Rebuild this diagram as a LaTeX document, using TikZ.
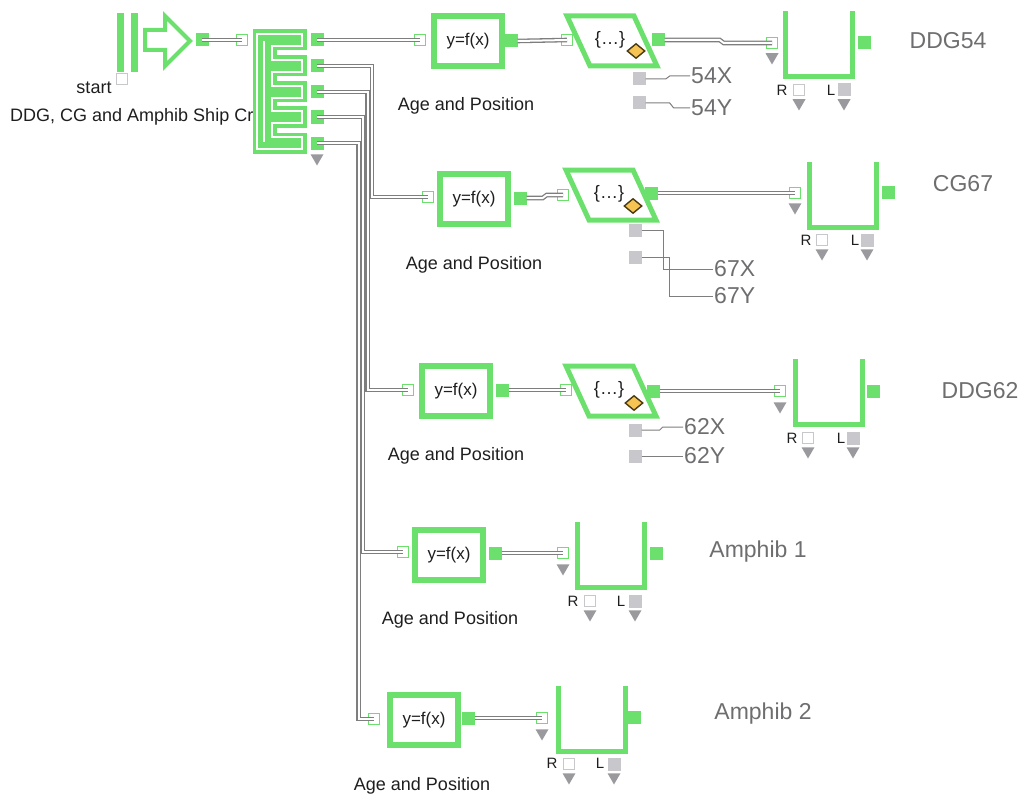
\documentclass[tikz,border=0pt]{standalone}
\usepackage{fontspec}
\setmainfont{Liberation Sans}
\usetikzlibrary{shapes.geometric,positioning,calc}
\definecolor{blockgreen}{HTML}{6CE06C}
\definecolor{wiregrey}{HTML}{7E7E7E}
\definecolor{portgrey}{HTML}{C8C8CC}
\definecolor{tipgrey}{HTML}{9A9A9E}
\definecolor{labgrey}{HTML}{6E6E70}
\definecolor{ink}{HTML}{1E1E1E}
\definecolor{gold}{HTML}{F6C453}
\definecolor{golddark}{HTML}{4A3A10}

\begin{document}
\begin{tikzpicture}[x=1pt, y=-1pt,
  font=\fontsize{18}{21}\selectfont,
  fbox/.style={draw=blockgreen, line width=6pt, fill=white, minimum width=68pt,
               minimum height=50pt, inner sep=0pt, text=ink,
               font=\fontsize{17}{20}\selectfont},
  qbox/.style={minimum width=66pt, minimum height=65pt, inner sep=0pt},
  ubox/.style={draw=blockgreen, line width=5pt},
  pbox/.style={draw=blockgreen, line width=5pt, line join=miter},
  inport/.style={draw=blockgreen, line width=1.4pt, minimum size=11pt, inner sep=0pt},
  outport/.style={fill=blockgreen, minimum size=13pt, inner sep=0pt},
  rport/.style={draw=portgrey, fill=white, line width=1.4pt, minimum size=11pt, inner sep=0pt},
  lport/.style={fill=portgrey, minimum size=13pt, inner sep=0pt},
  tip/.style={regular polygon, regular polygon sides=3, shape border rotate=180,
              fill=tipgrey, minimum size=15pt, inner sep=0pt},
  flag/.style={diamond, draw=golddark, fill=gold, line width=1.4pt,
               minimum width=18pt, minimum height=15pt, inner sep=0pt},
  wire/.style={draw=wiregrey, line width=1.3pt, double=white, double distance=2pt},
  tap/.style={draw=wiregrey, line width=1pt},
  lbl/.style={text=ink},
  tag/.style={font=\fontsize{23}{27}\selectfont, text=labgrey, inner sep=1pt},
  rl/.style={font=\fontsize{15}{18}\selectfont, text=ink, inner sep=1pt}
]
\useasboundingbox (0,0) rectangle (1024,797);

% ---- source -------------------------------------------------------------
\fill[blockgreen] (117,13) rectangle (124,72);
\fill[blockgreen] (131,13) rectangle (138,72);
\draw[blockgreen, line width=4pt, line join=miter]
  (145,30) -- (165,30) -- (165,16) -- (190,41) -- (165,66) -- (165,50) -- (145,50) -- cycle;
\node[rport] (start) at (122,79) {};
\node[lbl] (startlbl) at (94,88) {start};
\node[outport] (srcout) at (202,40) {};
\node[inport] (spin) at (242,40) {};
\node[lbl, anchor=west, inner sep=0pt] (title) at (10,117) {DDG, CG and Amphib Ship Creation};

% ---- splitter -----------------------------------------------------------
\draw[blockgreen, fill=blockgreen, line width=3.6pt, double=white, double distance=1.8pt,
      line join=miter]
  (257,34) -- (302,34) -- (302,46) -- (272,46) -- (272,60) -- (302,60) -- (302,72)
  -- (272,72) -- (272,86) -- (302,86) -- (302,98) -- (272,98) -- (272,111)
  -- (302,111) -- (302,123) -- (272,123) -- (272,137) -- (302,137) -- (302,149)
  -- (257,149) -- cycle;
\draw[white, line width=1.8pt] (264,41) -- (264,142);
\node[outport] (sp1) at (317,40) {};
\node[outport] (sp2) at (317,66) {};
\node[outport] (sp3) at (317,92) {};
\node[outport] (sp4) at (317,117) {};
\node[outport] (sp5) at (317,143) {};
\node[tip] (sptip) at (317,158) {};

% ---- DDG54 --------------------------------------------------------------
\node[inport] (f1in) at (420,40) {};
\node[fbox] (f1) at (468,41) {y=f(x)};
\node[outport] (f1out) at (511,41) {};
\node[lbl] (f1lbl) at (466,106) {Age and Position};
\node[text=ink] (p1) at (610,40) {\{\ldots\}};
\draw[pbox] (p1.center) ++(-43,-24) -- ++(67,0) -- ++(23,50) -- ++(-67,0) -- cycle;
\node[inport] (p1in) at (567,40) {};
\node[outport] (p1out) at (658,40) {};
\node[flag] (p1flag) at (636,51) {};
\node[lport] (p1x) at (639,79) {};
\node[lport] (p1y) at (639,103) {};
\node[tag, anchor=west] (l54x) at (690,76) {54X};
\node[tag, anchor=west] (l54y) at (690,108) {54Y};
\node[qbox] (q1) at (819,44) {};
\draw[ubox] (q1.north west) -- (q1.south west) -- (q1.south east) -- (q1.north east);
\node[inport] (q1in) at (772,43) {};
\node[tip] (q1tip) at (772,57) {};
\node[outport] (q1out) at (864,43) {};
\node[rport] (q1r) at (799,90) {};
\node[lport] (q1l) at (844,90) {};
\node[tip] (q1rtip) at (799,103) {};
\node[tip] (q1ltip) at (844,103) {};
\node[rl] (q1rl) at (782,90) {R};
\node[rl] (q1ll) at (831,90) {L};
\node[tag] (ddg54) at (948,41) {DDG54};

% ---- CG67 ---------------------------------------------------------------
\node[inport] (f2in) at (428,197) {};
\node[fbox] (f2) at (474,199) {y=f(x)};
\node[outport] (f2out) at (520,198) {};
\node[lbl] (f2lbl) at (474,265) {Age and Position};
\node[text=ink] (p2) at (609,194) {\{\ldots\}};
\draw[pbox] (p2.center) ++(-43,-24) -- ++(67,0) -- ++(23,50) -- ++(-67,0) -- cycle;
\node[inport] (p2in) at (563,195) {};
\node[outport] (p2out) at (651,193) {};
\node[flag] (p2flag) at (633,206) {};
\node[lport] (p2x) at (635,230) {};
\node[lport] (p2y) at (635,257) {};
\node[tag, anchor=west] (l67x) at (713,269) {67X};
\node[tag, anchor=west] (l67y) at (713,296) {67Y};
\node[qbox] (q2) at (843,195) {};
\draw[ubox] (q2.north west) -- (q2.south west) -- (q2.south east) -- (q2.north east);
\node[inport] (q2in) at (795,193) {};
\node[tip] (q2tip) at (795,207) {};
\node[outport] (q2out) at (888,192) {};
\node[rport] (q2r) at (822,240) {};
\node[lport] (q2l) at (867,240) {};
\node[tip] (q2rtip) at (822,253) {};
\node[tip] (q2ltip) at (867,253) {};
\node[rl] (q2rl) at (806,240) {R};
\node[rl] (q2ll) at (855,240) {L};
\node[tag] (cg67) at (963,184) {CG67};

% ---- DDG62 --------------------------------------------------------------
\node[inport] (f3in) at (408,390) {};
\node[fbox] (f3) at (456,391) {y=f(x)};
\node[outport] (f3out) at (502,390) {};
\node[lbl] (f3lbl) at (456,456) {Age and Position};
\node[text=ink] (p3) at (609,390) {\{\ldots\}};
\draw[pbox] (p3.center) ++(-43,-24) -- ++(67,0) -- ++(23,50) -- ++(-67,0) -- cycle;
\node[inport] (p3in) at (566,390) {};
\node[outport] (p3out) at (653,391) {};
\node[flag] (p3flag) at (634,403) {};
\node[lport] (p3x) at (635,430) {};
\node[lport] (p3y) at (635,456) {};
\node[tag, anchor=west] (l62x) at (683,427) {62X};
\node[tag, anchor=west] (l62y) at (683,456) {62Y};
\node[qbox] (q3) at (829,392) {};
\draw[ubox] (q3.north west) -- (q3.south west) -- (q3.south east) -- (q3.north east);
\node[inport] (q3in) at (780,391) {};
\node[tip] (q3tip) at (780,406) {};
\node[outport] (q3out) at (873,391) {};
\node[rport] (q3r) at (808,438) {};
\node[lport] (q3l) at (853,438) {};
\node[tip] (q3rtip) at (808,451) {};
\node[tip] (q3ltip) at (853,451) {};
\node[rl] (q3rl) at (792,438) {R};
\node[rl] (q3ll) at (841,438) {L};
\node[tag] (ddg62) at (980,391) {DDG62};

% ---- Amphib 1 -----------------------------------------------------------
\node[inport] (f4in) at (403,552) {};
\node[fbox] (f4) at (449,555) {y=f(x)};
\node[outport] (f4out) at (495,553) {};
\node[lbl] (f4lbl) at (450,620) {Age and Position};
\node[qbox] (q4) at (611,555) {};
\draw[ubox] (q4.north west) -- (q4.south west) -- (q4.south east) -- (q4.north east);
\node[inport] (q4in) at (563,553) {};
\node[tip] (q4tip) at (563,568) {};
\node[outport] (q4out) at (656,553) {};
\node[rport] (q4r) at (590,601) {};
\node[lport] (q4l) at (635,601) {};
\node[tip] (q4rtip) at (590,614) {};
\node[tip] (q4ltip) at (635,614) {};
\node[rl] (q4rl) at (573,601) {R};
\node[rl] (q4ll) at (621,601) {L};
\node[tag] (amph1) at (758,552) {Amphib 1};

% ---- Amphib 2 -----------------------------------------------------------
\node[inport] (f5in) at (374,719) {};
\node[fbox] (f5) at (424,720) {y=f(x)};
\node[outport] (f5out) at (468,718) {};
\node[lbl] (f5lbl) at (422,786) {Age and Position};
\node[qbox] (q5) at (592,719) {};
\draw[ubox] (q5.north west) -- (q5.south west) -- (q5.south east) -- (q5.north east);
\node[inport] (q5in) at (542,718) {};
\node[tip] (q5tip) at (542,733) {};
\node[outport] (q5out) at (634,717) {};
\node[rport] (q5r) at (569,764) {};
\node[lport] (q5l) at (614,764) {};
\node[tip] (q5rtip) at (569,777) {};
\node[tip] (q5ltip) at (614,777) {};
\node[rl] (q5rl) at (552,763) {R};
\node[rl] (q5ll) at (600,763) {L};
\node[tag] (amph2) at (763,714) {Amphib 2};

% ---- wires --------------------------------------------------------------
\draw[wire] (srcout.center) -- (spin.center);
\draw[wire] (sp1.center) -- (f1in.center);
\draw[wire] (sp2.center) -- ++(55,0) |- (f2in.center);
\draw[wire] (sp3.center) -- ++(50.5,0) |- (f3in.center);
\draw[wire] (sp4.center) -- ++(46,0) |- (f4in.center);
\draw[wire] (sp5.center) -- ++(41.5,0) |- (f5in.center);
\draw[wire] (f1out.east) -- (p1in.center);
\draw[wire] (f2out.east) -- ++(16,0) -- ++(4,-3) -- (p2in.center);
\draw[wire] (f3out.east) -- (p3in.center);
\draw[wire] (f4out.east) -- (q4in.center);
\draw[wire] (f5out.east) -- (q5in.center);
\draw[wire] (p1out.east) -- ++(55,0) -- ++(4,3) -- (q1in.center);
\draw[wire] (p2out.east) -- (q2in.center);
\draw[wire] (p3out.east) -- (q3in.center);

% ---- taps ---------------------------------------------------------------
\draw[tap] (p1x.east) -- ++(20,0) -- ++(4,-3) -- (l54x.west);
\draw[tap] (p1y.east) -- ++(24,0) -- ++(4,5) -- (l54y.west);
\draw[tap] (p2x.east) -- ++(22,0) |- (l67x.west);
\draw[tap] (p2y.east) -- ++(28,0) |- (l67y.west);
\draw[tap] (p3x.east) -- ++(18,0) -- ++(3,-3) -- (l62x.west);
\draw[tap] (p3y.east) -- (l62y.west);

\end{tikzpicture}
\end{document}
